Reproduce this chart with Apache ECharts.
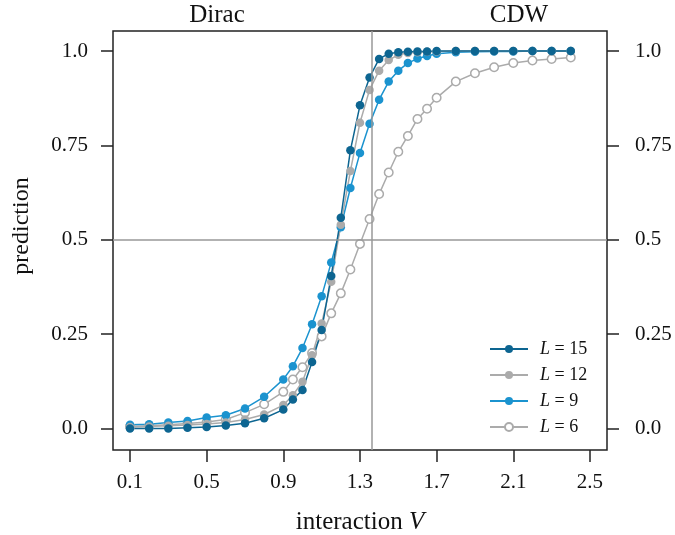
<!DOCTYPE html>
<html lang="en">
<head>
    <meta charset="UTF-8">
    <title>prediction vs interaction V</title>
    <script src="https://cdn.jsdelivr.net/npm/echarts@6/dist/echarts.min.js"></script>
    <style>
        html, body { margin: 0; padding: 0; background: #fff; }
    </style>
</head>
<body>
<div id="main" style="width: 675px;height:535px;"></div>
<script type="text/javascript">
    // interaction strengths sampled (coarse, fine near transition, coarse again)
    var vValues = [0.1, 0.2, 0.3, 0.4, 0.5, 0.6, 0.7, 0.8, 0.9,
        0.95, 1.0, 1.05, 1.1, 1.15, 1.2, 1.25, 1.3, 1.35, 1.4, 1.45, 1.5, 1.55, 1.6, 1.65, 1.7,
        1.8, 1.9, 2.0, 2.1, 2.2, 2.3, 2.4];

    var predL15 = [0.0, 0.0, 0.0, 0.002, 0.004, 0.008, 0.014, 0.027, 0.05,
        0.077, 0.102, 0.176, 0.261, 0.404, 0.558, 0.737, 0.856, 0.93, 0.979, 0.993, 0.997, 0.998, 0.999, 0.999, 1.0,
        1.0, 1.0, 1.0, 1.0, 1.0, 1.0, 1.0];
    var predL12 = [0.004, 0.005, 0.007, 0.009, 0.012, 0.016, 0.024, 0.037, 0.062,
        0.088, 0.124, 0.194, 0.278, 0.389, 0.54, 0.682, 0.81, 0.897, 0.948, 0.976, 0.99, 0.995, 0.997, 0.998, 0.999,
        1.0, 1.0, 1.0, 1.0, 1.0, 1.0, 1.0];
    var predL9 = [0.01, 0.011, 0.016, 0.02, 0.029, 0.035, 0.053, 0.084, 0.13,
        0.165, 0.213, 0.276, 0.35, 0.44, 0.533, 0.637, 0.73, 0.807, 0.871, 0.919, 0.948, 0.968, 0.98, 0.987, 0.993,
        0.997, 0.998, 0.999, 0.999, 1.0, 1.0, 1.0];
    var predL6 = [0.005, 0.007, 0.01, 0.013, 0.017, 0.024, 0.042, 0.064, 0.097,
        0.13, 0.162, 0.2, 0.244, 0.305, 0.358, 0.421, 0.489, 0.555, 0.621, 0.678, 0.733, 0.775, 0.82, 0.847, 0.876,
        0.919, 0.941, 0.957, 0.968, 0.975, 0.979, 0.983];

    var xTicks = [0.1, 0.5, 0.9, 1.3, 1.7, 2.1, 2.5];
    var yTicks = [0, 0.25, 0.5, 0.75, 1];
    var yTickLabels = ['0.0', '0.25', '0.5', '0.75', '1.0'];
    var criticalV = 1.36;

    var serif = 'Liberation Serif, Times New Roman, serif';
    var dark = '#0d6591';
    var blue = '#1b93cf';
    var gray = '#ababab';

    function pairs(ys) {
        var out = [];
        for (var i = 0; i < vValues.length; i++) {
            out.push([vValues[i], ys[i]]);
        }
        return out;
    }

    function yLabel(v) {
        var idx = yTicks.indexOf(v);
        return idx >= 0 ? yTickLabels[idx] : '';
    }

    function lineSeries(name, ys, color, hollow) {
        return {
            name: name,
            type: 'line',
            data: pairs(ys),
            symbol: 'circle',
            symbolSize: 8.5,
            showAllSymbol: true,
            lineStyle: {color: color, width: 1.5},
            itemStyle: hollow ? {color: '#fff', borderColor: color, borderWidth: 1.5}
                : {color: color, borderColor: color, borderWidth: 0},
            emphasis: {disabled: true}
        };
    }

    var myChart = echarts.init(document.getElementById('main'));

    var axisCommon = {
        axisLine: {show: false, onZero: false},
        splitLine: {show: false},
        axisTick: {show: true, inside: false, length: 12, lineStyle: {color: '#222', width: 1.5}}
    };

    var series = [
        lineSeries('6', predL6, gray, true),
        lineSeries('9', predL9, blue, false),
        lineSeries('12', predL12, gray, false),
        lineSeries('15', predL15, dark, false)
    ];
    series[0].markLine = {
        silent: true,
        symbol: 'none',
        label: {show: false},
        lineStyle: {color: '#999', width: 1.5, type: 'solid'},
        data: [{xAxis: criticalV}, {yAxis: 0.5}]
    };

    var option = {
        animation: false,
        backgroundColor: '#fff',
        textStyle: {fontFamily: serif},
        grid: {
            left: 113, top: 31, width: 494, height: 419,
            show: true, borderColor: '#222', borderWidth: 1.5,
            containLabel: false,
            outerBoundsMode: 'none'
        },
        legend: {
            data: ['15', '12', '9', '6'],
            orient: 'vertical',
            left: 489,
            top: 340,
            padding: 0,
            itemWidth: 38,
            itemHeight: 10,
            itemGap: 8,
            formatter: function (name) {
                return '{i|L} = ' + name;
            },
            textStyle: {
                fontFamily: serif, fontSize: 18, color: '#111',
                padding: [0, 0, 0, 7],
                rich: {i: {fontFamily: serif, fontStyle: 'italic', fontSize: 18, color: '#111'}}
            }
        },
        xAxis: Object.assign({}, axisCommon, {
            type: 'value',
            min: 0.0113,
            max: 2.589,
            name: 'interaction {i|V}',
            nameLocation: 'middle',
            nameGap: 60,
            nameTextStyle: {
                fontFamily: serif, fontSize: 25, color: '#111',
                rich: {i: {fontFamily: serif, fontStyle: 'italic', fontSize: 25, color: '#111'}}
            },
            axisTick: Object.assign({}, axisCommon.axisTick, {customValues: xTicks}),
            axisLabel: {
                customValues: xTicks,
                margin: 22,
                fontFamily: serif, fontSize: 21, color: '#111',
                formatter: function (v) { return v.toFixed(1); }
            }
        }),
        yAxis: [
            Object.assign({}, axisCommon, {
                type: 'value',
                position: 'left',
                min: -0.057,
                max: 1.053,
                axisTick: Object.assign({}, axisCommon.axisTick, {customValues: yTicks}),
                axisLabel: {
                    customValues: yTicks,
                    margin: 25,
                    fontFamily: serif, fontSize: 21, color: '#111',
                    formatter: yLabel
                }
            }),
            Object.assign({}, axisCommon, {
                type: 'value',
                position: 'right',
                min: -0.057,
                max: 1.053,
                axisTick: Object.assign({}, axisCommon.axisTick, {customValues: yTicks}),
                axisLabel: {
                    customValues: yTicks,
                    margin: 28,
                    fontFamily: serif, fontSize: 21, color: '#111',
                    formatter: yLabel
                }
            })
        ],
        graphic: [
            {
                type: 'text', x: 22, y: 226, rotation: Math.PI / 2,
                style: {text: 'prediction', font: '24px ' + serif, fill: '#111',
                    align: 'center', verticalAlign: 'middle'}
            },
            {
                type: 'text', x: 217, y: 15,
                style: {text: 'Dirac', font: '25px ' + serif, fill: '#111',
                    align: 'center', verticalAlign: 'middle'}
            },
            {
                type: 'text', x: 519, y: 15,
                style: {text: 'CDW', font: '25px ' + serif, fill: '#111',
                    align: 'center', verticalAlign: 'middle'}
            }
        ],
        series: series
    };
    myChart.setOption(option);
</script>

</body>
</html>
